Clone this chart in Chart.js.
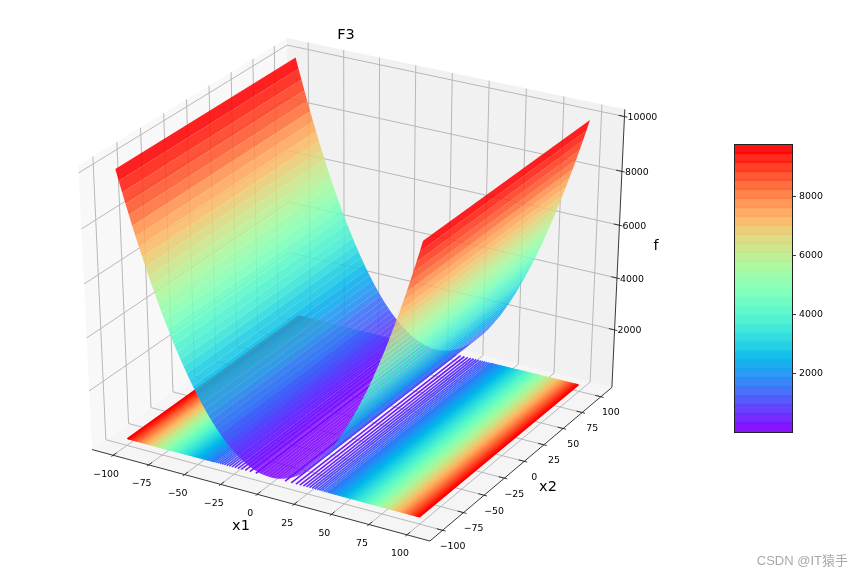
<!DOCTYPE html>
<html>
<head>
<meta charset="utf-8">
<script src="https://cdn.jsdelivr.net/npm/chart.js"></script>
<style>
  html, body { margin: 0; padding: 0; background: #fff; }
  #main { position: absolute; left: 0; top: 0; }
  #bar { position: absolute; left: 724px; top: 134px; }
</style>
</head>
<body>
<canvas id="main" width="864" height="576"></canvas>
<canvas id="bar" width="140" height="308"></canvas>
<script>
// values
const title = 'F3'
const x1Grid = [-100,-98,-96,-94,-92,-90,-88,-86,-84,-82,-80,-78,-76,-74,-72,-70,-68,-66,-64,-62,-60,-58,-56,-54,-52,-50,-48,-46,-44,-42,-40,-38,-36,-34,-32,-30,-28,-26,-24,-22,-20,-18,-16,-14,-12,-10,-8,-6,-4,-2,0,2,4,6,8,10,12,14,16,18,20,22,24,26,28,30,32,34,36,38,40,42,44,46,48,50,52,54,56,58,60,62,64,66,68,70,72,74,76,78,80,82,84,86,88,90,92,94,96,98,100]
const fValues = [10000,9604,9216,8836,8464,8100,7744,7396,7056,6724,6400,6084,5776,5476,5184,4900,4624,4356,4096,3844,3600,3364,3136,2916,2704,2500,2304,2116,1936,1764,1600,1444,1296,1156,1024,900,784,676,576,484,400,324,256,196,144,100,64,36,16,4,0,4,16,36,64,100,144,196,256,324,400,484,576,676,784,900,1024,1156,1296,1444,1600,1764,1936,2116,2304,2500,2704,2916,3136,3364,3600,3844,4096,4356,4624,4900,5184,5476,5776,6084,6400,6724,7056,7396,7744,8100,8464,8836,9216,9604,10000]
const x2Range = [-100, 100]
// x1 position of each contour line on the floor (mirrored either side of 0)
const contourX1 = [10,14.14,17.32,20,22.36,24.49,26.46,28.28,30,31.62,33.17,34.64,36.06,37.42,38.73,40,41.23,42.43,43.59,44.72,45.83,46.9,47.96,48.99,50,50.99,51.96,52.92,53.85,54.77,55.68,56.57,57.45,58.31,59.16,60,60.83,61.64,62.45,63.25,64.03,64.81,65.57,66.33,67.08,67.82,68.56,69.28,70,70.71,71.41,72.11,72.8,73.48,74.16,74.83,75.5,76.16,76.81,77.46,78.1,78.74,79.37,80,80.62,81.24,81.85,82.46,83.07,83.67,84.26,84.85,85.44,86.02,86.6,87.18,87.75,88.32,88.88,89.44,90,90.55,91.1,91.65,92.2,92.74,93.27,93.81,94.34,94.87,95.39,95.92,96.44,96.95,97.47,97.98,98.49,98.99,99.5]
const floorZ = 0
const x1Ticks = [-100,-75,-50,-25,0,25,50,75,100]
const x2Ticks = [-100,-75,-50,-25,0,25,50,75,100]
const fTicks = [2000,4000,6000,8000,10000]
const limX = [-115, 115]
const limY = [-115, 115]
const limZ = [-260, 10260]
const cbEdges = [0,306,612,919,1225,1531,1838,2144,2450,2756,3063,3369,3675,3981,4288,4594,4900,5206,5513,5819,6125,6431,6738,7044,7350,7656,7963,8269,8575,8881,9188,9494,9800]
const cbTicks = [2000,4000,6000,8000]
const FONT = '"DejaVu Sans"'

function rainbow(t, a) {
    t = Math.min(1, Math.max(0, t))
    const r = Math.min(1, Math.abs(2 * t - 0.5))
    const g = Math.sin(Math.PI * t)
    const b = Math.cos(Math.PI * t / 2)
    return `rgba(${Math.round(r * 255)},${Math.round(g * 255)},${Math.round(b * 255)},${a})`
}

// same camera as a default mplot3d view (elev 30, azim -60, dist 10)
const n = [0.4330127, -0.75, 0.5]
const u = [0.8660254, 0.5, 0]
const v = [-0.25, 0.4330127, 0.8660254]
function project(x, y, z) {
    const q = [
        (x - limX[0]) / (limX[1] - limX[0]) - 0.5,
        (y - limY[0]) / (limY[1] - limY[0]) - 0.5,
        (z - limZ[0]) / (limZ[1] - limZ[0]) - 0.5]
    const dot = (a) => a[0] * q[0] + a[1] * q[1] + a[2] * q[2]
    const w = 10 - dot(n)
    return { x: dot(u) / w, y: dot(v) / w }
}

const datasets = []
function addLine(pts, color, width) {
    datasets.push({
        data: pts.map(p => project(p[0], p[1], p[2])),
        showLine: true, pointRadius: 0, borderColor: color, borderWidth: width, fill: false, tension: 0
    })
}
function addPoly(pts, color) {
    pts = pts.concat([pts[0]])
    datasets.push({
        data: pts.map(p => project(p[0], p[1], p[2])),
        showLine: true, pointRadius: 0, borderColor: 'transparent', borderWidth: 0,
        backgroundColor: color, fill: 'shape', tension: 0
    })
}

const [x0, x1] = limX, [y0, y1] = limY, [z0, z1] = limZ

// panes
addPoly([[x0,y0,z0],[x0,y1,z0],[x0,y1,z1],[x0,y0,z1]], '#f8f8f8')
addPoly([[x0,y1,z0],[x1,y1,z0],[x1,y1,z1],[x0,y1,z1]], '#f1f1f1')
addPoly([[x0,y0,z0],[x1,y0,z0],[x1,y1,z0],[x0,y1,z0]], '#f5f5f5')

// grid
const gridCol = '#b8b8b8'
x1Ticks.forEach(t => addLine([[t,y0,z0],[t,y1,z0],[t,y1,z1]], gridCol, 1))
x2Ticks.forEach(t => addLine([[x1,t,z0],[x0,t,z0],[x0,t,z1]], gridCol, 1))
fTicks.forEach(t => addLine([[x0,y0,t],[x0,y1,t],[x1,y1,t]], gridCol, 1))

// axis lines and tick marks
addLine([[x0,y0,z0],[x1,y0,z0]], '#222', 0.9)
addLine([[x1,y0,z0],[x1,y1,z0]], '#222', 0.9)
addLine([[x1,y1,z0],[x1,y1,z1]], '#222', 0.9)
const tdx = (x1 - x0) / 60, tdy = (y1 - y0) / 60
x1Ticks.forEach(t => addLine([[t,y0-tdy/2,z0],[t,y0+tdy,z0]], '#222', 0.9))
x2Ticks.forEach(t => addLine([[x1+tdx/2,t,z0],[x1-tdx,t,z0]], '#222', 0.9))
fTicks.forEach(t => addLine([[x1+tdx/2,y1,t],[x1-tdx,y1,t]], '#222', 0.9))

// contour lines on the floor, packed lines merge into a solid colour ramp
for (const side of [-1, 1]) {
    contourX1.forEach((c, i) => {
        const t = (i + 1) / contourX1.length
        const next = contourX1[i + 1]
        if (next !== undefined && next - c < 1.3) {
            addPoly([[side*c,x2Range[0],floorZ],[side*next,x2Range[0],floorZ],[side*next,x2Range[1],floorZ],[side*c,x2Range[1],floorZ]], rainbow(t, 1))
        }
        addLine([[side*c,x2Range[0],floorZ],[side*c,x2Range[1],floorZ]], rainbow(t, 1), 1.6)
    })
}

// surface strips, back to front
for (let i = 0; i < x1Grid.length - 1; i++) {
    const a = x1Grid[i], b = x1Grid[i + 1]
    const fa = fValues[i], fb = fValues[i + 1]
    const mean = (fa + fb) / 2 / 9800
    const band = Math.min(31, Math.floor(mean * 32)) / 31
    const t = mean < 0.1 ? mean : (band + mean) / 2
    addPoly([[a,x2Range[0],fa],[b,x2Range[0],fb],[b,x2Range[1],fb],[a,x2Range[1],fa]], rainbow(t, 0.87))
}

// chart.js paints dataset 0 last, so the list goes in reversed
datasets.reverse()

const axisText = {
    id: 'axisText',
    afterDraw(chart) {
        const ctx = chart.ctx, sx = chart.scales.x, sy = chart.scales.y
        const px = (p) => [sx.getPixelForValue(p.x), sy.getPixelForValue(p.y)]
        ctx.save()
        ctx.fillStyle = '#000'
        ctx.textBaseline = 'middle'
        ctx.font = `9.4px ${FONT}`
        ctx.textAlign = 'center'
        x1Ticks.forEach(t => {
            const [a, b] = px(project(t, y0, z0))
            ctx.fillText(String(t).replace('-', '\u2212'), a - 7, b + 19)
        })
        x2Ticks.forEach(t => {
            const [a, b] = px(project(x1, t, z0))
            ctx.fillText(String(t).replace('-', '\u2212'), a + 10, b + 16)
        })
        ctx.textAlign = 'left'
        fTicks.forEach(t => {
            const [a, b] = px(project(x1, y1, t))
            ctx.fillText(String(t), a + 3, b + 1)
        })
        ctx.textAlign = 'center'
        ctx.font = `14.5px ${FONT}`
        ctx.fillText(title, 346, 35)
        ctx.fillText('x1', 241, 526)
        ctx.fillText('x2', 548, 487)
        ctx.fillText('f', 656, 246)
        ctx.textAlign = 'right'
        ctx.fillStyle = '#a9a9a9'
        ctx.font = '13px "Liberation Sans", "Noto Sans CJK SC"'
        ctx.fillText('CSDN @IT猿手', 848, 561)
        ctx.restore()
    }
}

new Chart(document.getElementById('main'), {
    type: 'scatter',
    data: { datasets },
    plugins: [axisText],
    options: {
        responsive: false, animation: false, devicePixelRatio: 1,
        clip: false,
        layout: { padding: 0 },
        plugins: { legend: { display: false }, tooltip: { enabled: false } },
        events: [],
        scales: {
            x: { type: 'linear', display: false, min: -0.09128, max: 0.13026 },
            y: { type: 'linear', display: false, min: -0.09097, max: 0.08665 }
        }
    }
})

// colour bar
const barSets = []
for (let i = cbEdges.length - 2; i >= 0; i--) {
    const t = i / (cbEdges.length - 2)
    if (i > 0) barSets.push({ data: [[cbEdges[i] - 30, cbEdges[i] + 30]], backgroundColor: rainbow(t, 0.72), borderWidth: 0 })
    barSets.push({ data: [[cbEdges[i], cbEdges[i + 1]]], backgroundColor: rainbow(t, 0.93), borderWidth: 0 })
}
const frame = {
    id: 'frame',
    afterDraw(chart) {
        const a = chart.chartArea, ctx = chart.ctx
        ctx.save()
        ctx.strokeStyle = '#222'
        ctx.lineWidth = 1
        ctx.strokeRect(a.left + 0.5, a.top + 0.5, a.right - a.left, a.bottom - a.top)
        ctx.restore()
    }
}
new Chart(document.getElementById('bar'), {
    type: 'bar',
    data: { labels: [''], datasets: barSets },
    plugins: [frame],
    options: {
        responsive: false, animation: false, devicePixelRatio: 1,
        layout: { padding: { left: 10, top: 10, bottom: 10, right: 0 } },
        plugins: { legend: { display: false }, tooltip: { enabled: false } },
        events: [],
        datasets: { bar: { barPercentage: 1, categoryPercentage: 1 } },
        scales: {
            x: { stacked: true, display: false },
            y: {
                position: 'right', min: 0, max: 9800,
                afterBuildTicks(s) { s.ticks = cbTicks.map(value => ({ value })) },
                afterFit(s) { s.width = 72 },
                grid: { drawOnChartArea: false, tickLength: 4, tickColor: '#222', tickWidth: 0.9 },
                border: { display: false },
                ticks: { color: '#000', padding: 3, font: { family: 'DejaVu Sans', size: 9.4 }, callback: (val) => String(val) }
            }
        }
    }
})
</script>
</body>
</html>
